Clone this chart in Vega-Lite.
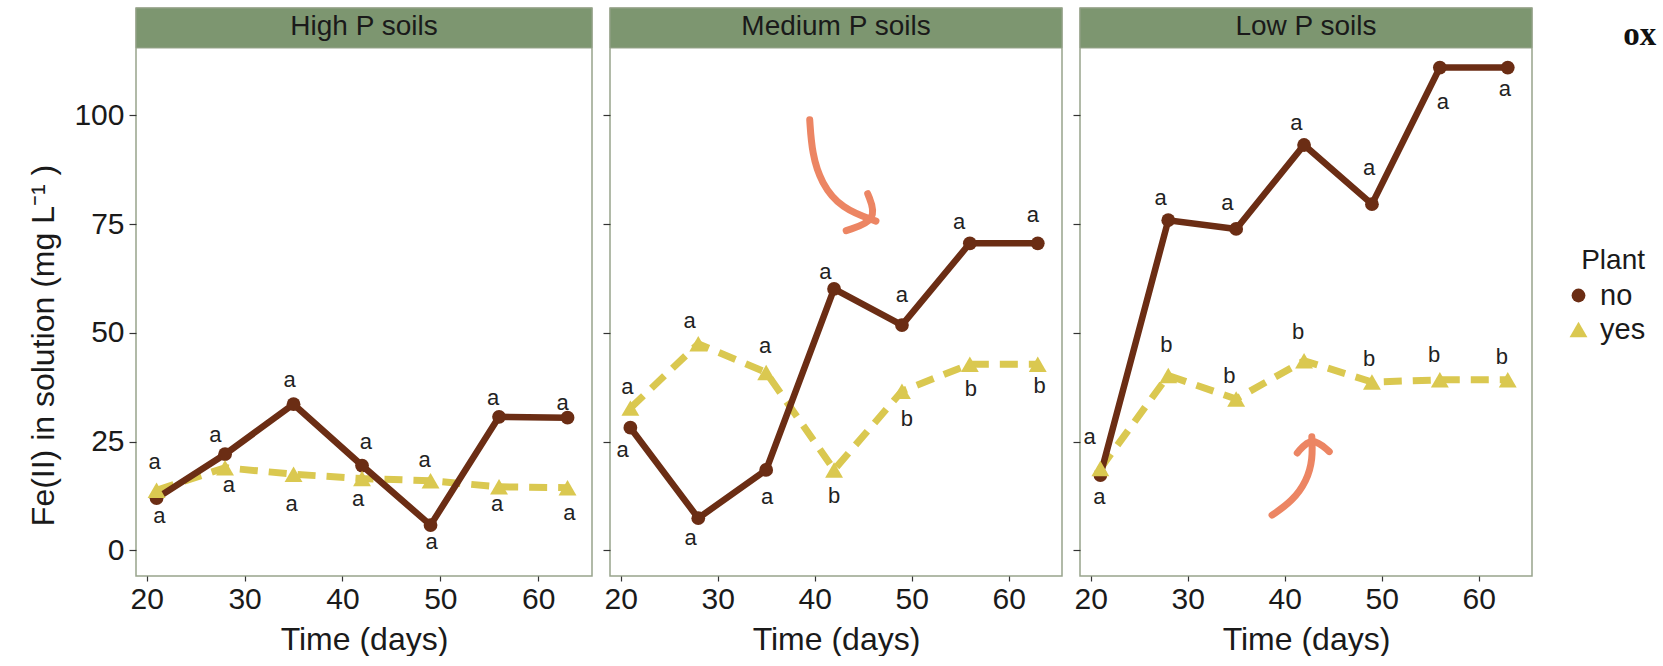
{
  "$schema": "https://vega.github.io/schema/vega-lite/v6.json",
  "padding": {"left": 27, "top": 6, "right": 0, "bottom": 0},
  "background": "white",
  "datasets": {
    "pts": [
      {"soil": "High P soils", "Plant": "no", "day": 21, "fe": 12.0},
      {"soil": "High P soils", "Plant": "no", "day": 28, "fe": 22.1},
      {"soil": "High P soils", "Plant": "no", "day": 35, "fe": 33.6},
      {"soil": "High P soils", "Plant": "no", "day": 42, "fe": 19.5},
      {"soil": "High P soils", "Plant": "no", "day": 49, "fe": 5.8},
      {"soil": "High P soils", "Plant": "no", "day": 56, "fe": 30.7},
      {"soil": "High P soils", "Plant": "no", "day": 63, "fe": 30.5},
      {"soil": "High P soils", "Plant": "yes", "day": 21, "fe": 13.8},
      {"soil": "High P soils", "Plant": "yes", "day": 28, "fe": 19.0},
      {"soil": "High P soils", "Plant": "yes", "day": 35, "fe": 17.5},
      {"soil": "High P soils", "Plant": "yes", "day": 42, "fe": 16.5},
      {"soil": "High P soils", "Plant": "yes", "day": 49, "fe": 16.0},
      {"soil": "High P soils", "Plant": "yes", "day": 56, "fe": 14.6},
      {"soil": "High P soils", "Plant": "yes", "day": 63, "fe": 14.4},
      {"soil": "Medium P soils", "Plant": "no", "day": 21, "fe": 28.2},
      {"soil": "Medium P soils", "Plant": "no", "day": 28, "fe": 7.4},
      {"soil": "Medium P soils", "Plant": "no", "day": 35, "fe": 18.5},
      {"soil": "Medium P soils", "Plant": "no", "day": 42, "fe": 60.1},
      {"soil": "Medium P soils", "Plant": "no", "day": 49, "fe": 51.8},
      {"soil": "Medium P soils", "Plant": "no", "day": 56, "fe": 70.6},
      {"soil": "Medium P soils", "Plant": "no", "day": 63, "fe": 70.6},
      {"soil": "Medium P soils", "Plant": "yes", "day": 21, "fe": 32.7},
      {"soil": "Medium P soils", "Plant": "yes", "day": 28, "fe": 47.5},
      {"soil": "Medium P soils", "Plant": "yes", "day": 35, "fe": 40.9},
      {"soil": "Medium P soils", "Plant": "yes", "day": 42, "fe": 18.5},
      {"soil": "Medium P soils", "Plant": "yes", "day": 49, "fe": 36.6},
      {"soil": "Medium P soils", "Plant": "yes", "day": 56, "fe": 42.8},
      {"soil": "Medium P soils", "Plant": "yes", "day": 63, "fe": 42.8},
      {"soil": "Low P soils", "Plant": "no", "day": 21, "fe": 17.3},
      {"soil": "Low P soils", "Plant": "no", "day": 28, "fe": 75.9},
      {"soil": "Low P soils", "Plant": "no", "day": 35, "fe": 73.9},
      {"soil": "Low P soils", "Plant": "no", "day": 42, "fe": 93.2},
      {"soil": "Low P soils", "Plant": "no", "day": 49, "fe": 79.6},
      {"soil": "Low P soils", "Plant": "no", "day": 56, "fe": 111.0},
      {"soil": "Low P soils", "Plant": "no", "day": 63, "fe": 111.0},
      {"soil": "Low P soils", "Plant": "yes", "day": 21, "fe": 18.8},
      {"soil": "Low P soils", "Plant": "yes", "day": 28, "fe": 40.2},
      {"soil": "Low P soils", "Plant": "yes", "day": 35, "fe": 34.8},
      {"soil": "Low P soils", "Plant": "yes", "day": 42, "fe": 43.6},
      {"soil": "Low P soils", "Plant": "yes", "day": 49, "fe": 38.7},
      {"soil": "Low P soils", "Plant": "yes", "day": 56, "fe": 39.2},
      {"soil": "Low P soils", "Plant": "yes", "day": 63, "fe": 39.2}
    ],
    "letters": [
      {"soil": "High P soils", "day": 20.8, "fe": 20.4, "letter": "a"},
      {"soil": "High P soils", "day": 21.3, "fe": 7.8, "letter": "a"},
      {"soil": "High P soils", "day": 27.0, "fe": 26.6, "letter": "a"},
      {"soil": "High P soils", "day": 28.4, "fe": 15.1, "letter": "a"},
      {"soil": "High P soils", "day": 34.6, "fe": 39.1, "letter": "a"},
      {"soil": "High P soils", "day": 34.8, "fe": 10.7, "letter": "a"},
      {"soil": "High P soils", "day": 42.4, "fe": 25.0, "letter": "a"},
      {"soil": "High P soils", "day": 41.6, "fe": 11.7, "letter": "a"},
      {"soil": "High P soils", "day": 48.4, "fe": 20.7, "letter": "a"},
      {"soil": "High P soils", "day": 49.1, "fe": 1.9, "letter": "a"},
      {"soil": "High P soils", "day": 55.4, "fe": 35.1, "letter": "a"},
      {"soil": "High P soils", "day": 55.8, "fe": 10.7, "letter": "a"},
      {"soil": "High P soils", "day": 62.5, "fe": 33.8, "letter": "a"},
      {"soil": "High P soils", "day": 63.2, "fe": 8.5, "letter": "a"},
      {"soil": "Medium P soils", "day": 20.7, "fe": 37.5, "letter": "a"},
      {"soil": "Medium P soils", "day": 20.2, "fe": 23.0, "letter": "a"},
      {"soil": "Medium P soils", "day": 27.1, "fe": 52.8, "letter": "a"},
      {"soil": "Medium P soils", "day": 27.2, "fe": 2.9, "letter": "a"},
      {"soil": "Medium P soils", "day": 34.9, "fe": 47.0, "letter": "a"},
      {"soil": "Medium P soils", "day": 35.1, "fe": 12.3, "letter": "a"},
      {"soil": "Medium P soils", "day": 41.1, "fe": 64.0, "letter": "a"},
      {"soil": "Medium P soils", "day": 42.0, "fe": 12.5, "letter": "b"},
      {"soil": "Medium P soils", "day": 49.0, "fe": 58.7, "letter": "a"},
      {"soil": "Medium P soils", "day": 49.5, "fe": 30.2, "letter": "b"},
      {"soil": "Medium P soils", "day": 54.9, "fe": 75.5, "letter": "a"},
      {"soil": "Medium P soils", "day": 56.1, "fe": 37.0, "letter": "b"},
      {"soil": "Medium P soils", "day": 62.5, "fe": 77.1, "letter": "a"},
      {"soil": "Medium P soils", "day": 63.2, "fe": 37.7, "letter": "b"},
      {"soil": "Low P soils", "day": 19.9, "fe": 26.1, "letter": "a"},
      {"soil": "Low P soils", "day": 20.9, "fe": 12.3, "letter": "a"},
      {"soil": "Low P soils", "day": 27.2, "fe": 81.0, "letter": "a"},
      {"soil": "Low P soils", "day": 27.8, "fe": 47.3, "letter": "b"},
      {"soil": "Low P soils", "day": 34.1, "fe": 79.8, "letter": "a"},
      {"soil": "Low P soils", "day": 34.3, "fe": 40.2, "letter": "b"},
      {"soil": "Low P soils", "day": 41.2, "fe": 98.2, "letter": "a"},
      {"soil": "Low P soils", "day": 41.4, "fe": 50.2, "letter": "b"},
      {"soil": "Low P soils", "day": 48.7, "fe": 87.8, "letter": "a"},
      {"soil": "Low P soils", "day": 48.7, "fe": 44.1, "letter": "b"},
      {"soil": "Low P soils", "day": 56.3, "fe": 103.2, "letter": "a"},
      {"soil": "Low P soils", "day": 55.4, "fe": 45.0, "letter": "b"},
      {"soil": "Low P soils", "day": 62.7, "fe": 106.1, "letter": "a"},
      {"soil": "Low P soils", "day": 62.4, "fe": 44.4, "letter": "b"}
    ],
    "arrows": [
      {"soil": "Medium P soils", "part": "curve", "ord": 1, "day": 39.49, "fe": 99.0},
      {"soil": "Medium P soils", "part": "curve", "ord": 2, "day": 39.73, "fe": 91.2},
      {"soil": "Medium P soils", "part": "curve", "ord": 3, "day": 40.68, "fe": 84.4},
      {"soil": "Medium P soils", "part": "curve", "ord": 4, "day": 42.74, "fe": 78.6},
      {"soil": "Medium P soils", "part": "curve", "ord": 5, "day": 46.32, "fe": 75.7},
      {"soil": "Medium P soils", "part": "head", "ord": 1, "day": 45.47, "fe": 82.0},
      {"soil": "Medium P soils", "part": "head", "ord": 2, "day": 46.56, "fe": 75.9},
      {"soil": "Medium P soils", "part": "head", "ord": 3, "day": 43.25, "fe": 73.5},
      {"soil": "Low P soils", "part": "curve", "ord": 1, "day": 38.7, "fe": 8.1},
      {"soil": "Low P soils", "part": "curve", "ord": 2, "day": 40.8, "fe": 11.3},
      {"soil": "Low P soils", "part": "curve", "ord": 3, "day": 42.3, "fe": 16.0},
      {"soil": "Low P soils", "part": "curve", "ord": 4, "day": 42.9, "fe": 21.0},
      {"soil": "Low P soils", "part": "curve", "ord": 5, "day": 42.8, "fe": 26.1},
      {"soil": "Low P soils", "part": "head", "ord": 1, "day": 41.3, "fe": 22.4},
      {"soil": "Low P soils", "part": "head", "ord": 2, "day": 42.8, "fe": 26.3},
      {"soil": "Low P soils", "part": "head", "ord": 3, "day": 44.6, "fe": 22.7}
    ],
    "strips": [
      {"soil": "High P soils"},
      {"soil": "Medium P soils"},
      {"soil": "Low P soils"}
    ],
    "notes": [
      {"soil": "Low P soils", "note": "ox", "day": 74.9, "fe": 116.3}
    ]
  },
  "spacing": 7,
  "resolve": {"scale": {"color": "shared", "shape": "shared", "size": "shared"}, "legend": {"color": "shared", "shape": "shared", "size": "shared"}},
  "hconcat": [
    {
      "width": 456, "height": 568,
      "layer": [
        {"data": {"name": "strips"}, "transform": [{"filter": "datum.soil === 'High P soils'"}],
         "mark": {"type": "rect", "fill": "#7d9670", "stroke": "#98a48c", "strokeWidth": 1},
         "encoding": {
           "x": {"datum": 18.9, "type": "quantitative", "scale": {"domain": [18.9, 65.5], "nice": false, "zero": false},
                 "axis": {"title": "Time (days)", "values": [20, 30, 40, 50, 60]}},
           "x2": {"datum": 65.5},
           "y": {"datum": 115.5, "type": "quantitative", "scale": {"domain": [-5.9, 124.7], "nice": false, "zero": false},
                 "axis": {"title": "Fe(II) in solution (mg L⁻¹ )", "values": [0, 25, 50, 75, 100], "titleY": 337}},
           "y2": {"datum": 124.7}}},
        {"data": {"name": "strips"}, "transform": [{"filter": "datum.soil === 'High P soils'"}],
         "mark": {"type": "text", "fontSize": 28, "color": "#1a1a1a", "baseline": "middle"},
         "encoding": {"x": {"datum": 42.2, "type": "quantitative"}, "y": {"datum": 120.3, "type": "quantitative"}, "text": {"field": "soil"}}},
        {"data": {"name": "pts"}, "transform": [{"filter": "datum.soil === 'High P soils' && datum.Plant === 'yes'"}],
         "mark": {"type": "line", "color": "#dac850", "strokeWidth": 7, "strokeDash": [18, 11]},
         "encoding": {"x": {"field": "day", "type": "quantitative"}, "y": {"field": "fe", "type": "quantitative"}}},
        {"data": {"name": "pts"}, "transform": [{"filter": "datum.soil === 'High P soils' && datum.Plant === 'no'"}],
         "mark": {"type": "line", "color": "#6b2d14", "strokeWidth": 6.5},
         "encoding": {"x": {"field": "day", "type": "quantitative"}, "y": {"field": "fe", "type": "quantitative"}}},
        {"data": {"name": "pts"}, "transform": [{"filter": "datum.soil === 'High P soils'"}],
         "mark": {"type": "point", "filled": true, "opacity": 1},
         "encoding": {"x": {"field": "day", "type": "quantitative"}, "y": {"field": "fe", "type": "quantitative"},
           "color": {"field": "Plant", "type": "nominal", "scale": {"domain": ["no", "yes"], "range": ["#6b2d14", "#dac850"]}, "title": "Plant"},
           "shape": {"field": "Plant", "type": "nominal", "scale": {"domain": ["no", "yes"], "range": ["circle", "triangle-up"]}, "title": "Plant"},
           "size": {"field": "Plant", "type": "nominal", "scale": {"domain": ["no", "yes"], "range": [190, 320]}, "title": "Plant"}}},
        {"data": {"name": "letters"}, "transform": [{"filter": "datum.soil === 'High P soils'"}],
         "mark": {"type": "text", "fontSize": 22, "color": "#222222", "baseline": "middle"},
         "encoding": {"x": {"field": "day", "type": "quantitative"}, "y": {"field": "fe", "type": "quantitative"}, "text": {"field": "letter"}}}
      ]
    },
    {
      "width": 452, "height": 568,
      "layer": [
        {"data": {"name": "strips"}, "transform": [{"filter": "datum.soil === 'Medium P soils'"}],
         "mark": {"type": "rect", "fill": "#7d9670", "stroke": "#98a48c", "strokeWidth": 1},
         "encoding": {
           "x": {"datum": 18.9, "type": "quantitative", "scale": {"domain": [18.9, 65.5], "nice": false, "zero": false},
                 "axis": {"title": "Time (days)", "values": [20, 30, 40, 50, 60]}},
           "x2": {"datum": 65.5},
           "y": {"datum": 115.5, "type": "quantitative", "scale": {"domain": [-5.9, 124.7], "nice": false, "zero": false},
                 "axis": {"title": null, "labels": false, "values": [0, 25, 50, 75, 100]}},
           "y2": {"datum": 124.7}}},
        {"data": {"name": "strips"}, "transform": [{"filter": "datum.soil === 'Medium P soils'"}],
         "mark": {"type": "text", "fontSize": 28, "color": "#1a1a1a", "baseline": "middle"},
         "encoding": {"x": {"datum": 42.2, "type": "quantitative"}, "y": {"datum": 120.3, "type": "quantitative"}, "text": {"field": "soil"}}},
        {"data": {"name": "pts"}, "transform": [{"filter": "datum.soil === 'Medium P soils' && datum.Plant === 'yes'"}],
         "mark": {"type": "line", "color": "#dac850", "strokeWidth": 7, "strokeDash": [18, 11]},
         "encoding": {"x": {"field": "day", "type": "quantitative"}, "y": {"field": "fe", "type": "quantitative"}}},
        {"data": {"name": "pts"}, "transform": [{"filter": "datum.soil === 'Medium P soils' && datum.Plant === 'no'"}],
         "mark": {"type": "line", "color": "#6b2d14", "strokeWidth": 6.5},
         "encoding": {"x": {"field": "day", "type": "quantitative"}, "y": {"field": "fe", "type": "quantitative"}}},
        {"data": {"name": "pts"}, "transform": [{"filter": "datum.soil === 'Medium P soils'"}],
         "mark": {"type": "point", "filled": true, "opacity": 1},
         "encoding": {"x": {"field": "day", "type": "quantitative"}, "y": {"field": "fe", "type": "quantitative"},
           "color": {"field": "Plant", "type": "nominal", "scale": {"domain": ["no", "yes"], "range": ["#6b2d14", "#dac850"]}, "title": "Plant"},
           "shape": {"field": "Plant", "type": "nominal", "scale": {"domain": ["no", "yes"], "range": ["circle", "triangle-up"]}, "title": "Plant"},
           "size": {"field": "Plant", "type": "nominal", "scale": {"domain": ["no", "yes"], "range": [190, 320]}, "title": "Plant"}}},
        {"data": {"name": "letters"}, "transform": [{"filter": "datum.soil === 'Medium P soils'"}],
         "mark": {"type": "text", "fontSize": 22, "color": "#222222", "baseline": "middle"},
         "encoding": {"x": {"field": "day", "type": "quantitative"}, "y": {"field": "fe", "type": "quantitative"}, "text": {"field": "letter"}}},
        {"data": {"name": "arrows"}, "transform": [{"filter": "datum.soil === 'Medium P soils'"}],
         "mark": {"type": "line", "color": "#ec8563", "strokeWidth": 7, "strokeCap": "round", "strokeJoin": "round", "interpolate": "basis"},
         "encoding": {"x": {"field": "day", "type": "quantitative"}, "y": {"field": "fe", "type": "quantitative"}, "detail": {"field": "part"}, "order": {"field": "ord"}}}
      ]
    },
    {
      "width": 452, "height": 568,
      "layer": [
        {"data": {"name": "strips"}, "transform": [{"filter": "datum.soil === 'Low P soils'"}],
         "mark": {"type": "rect", "fill": "#7d9670", "stroke": "#98a48c", "strokeWidth": 1},
         "encoding": {
           "x": {"datum": 18.9, "type": "quantitative", "scale": {"domain": [18.9, 65.5], "nice": false, "zero": false},
                 "axis": {"title": "Time (days)", "values": [20, 30, 40, 50, 60]}},
           "x2": {"datum": 65.5},
           "y": {"datum": 115.5, "type": "quantitative", "scale": {"domain": [-5.9, 124.7], "nice": false, "zero": false},
                 "axis": {"title": null, "labels": false, "values": [0, 25, 50, 75, 100]}},
           "y2": {"datum": 124.7}}},
        {"data": {"name": "strips"}, "transform": [{"filter": "datum.soil === 'Low P soils'"}],
         "mark": {"type": "text", "fontSize": 28, "color": "#1a1a1a", "baseline": "middle"},
         "encoding": {"x": {"datum": 42.2, "type": "quantitative"}, "y": {"datum": 120.3, "type": "quantitative"}, "text": {"field": "soil"}}},
        {"data": {"name": "pts"}, "transform": [{"filter": "datum.soil === 'Low P soils' && datum.Plant === 'yes'"}],
         "mark": {"type": "line", "color": "#dac850", "strokeWidth": 7, "strokeDash": [18, 11]},
         "encoding": {"x": {"field": "day", "type": "quantitative"}, "y": {"field": "fe", "type": "quantitative"}}},
        {"data": {"name": "pts"}, "transform": [{"filter": "datum.soil === 'Low P soils' && datum.Plant === 'no'"}],
         "mark": {"type": "line", "color": "#6b2d14", "strokeWidth": 6.5},
         "encoding": {"x": {"field": "day", "type": "quantitative"}, "y": {"field": "fe", "type": "quantitative"}}},
        {"data": {"name": "pts"}, "transform": [{"filter": "datum.soil === 'Low P soils'"}],
         "mark": {"type": "point", "filled": true, "opacity": 1},
         "encoding": {"x": {"field": "day", "type": "quantitative"}, "y": {"field": "fe", "type": "quantitative"},
           "color": {"field": "Plant", "type": "nominal", "scale": {"domain": ["no", "yes"], "range": ["#6b2d14", "#dac850"]}, "title": "Plant"},
           "shape": {"field": "Plant", "type": "nominal", "scale": {"domain": ["no", "yes"], "range": ["circle", "triangle-up"]}, "title": "Plant"},
           "size": {"field": "Plant", "type": "nominal", "scale": {"domain": ["no", "yes"], "range": [190, 320]}, "title": "Plant"}}},
        {"data": {"name": "letters"}, "transform": [{"filter": "datum.soil === 'Low P soils'"}],
         "mark": {"type": "text", "fontSize": 22, "color": "#222222", "baseline": "middle"},
         "encoding": {"x": {"field": "day", "type": "quantitative"}, "y": {"field": "fe", "type": "quantitative"}, "text": {"field": "letter"}}},
        {"data": {"name": "arrows"}, "transform": [{"filter": "datum.soil === 'Low P soils'"}],
         "mark": {"type": "line", "color": "#ec8563", "strokeWidth": 7, "strokeCap": "round", "strokeJoin": "round", "interpolate": "basis"},
         "encoding": {"x": {"field": "day", "type": "quantitative"}, "y": {"field": "fe", "type": "quantitative"}, "detail": {"field": "part"}, "order": {"field": "ord"}}},
        {"data": {"name": "notes"},
         "mark": {"type": "text", "font": "Liberation Serif", "fontWeight": "bold", "fontSize": 33, "color": "#111111", "align": "left", "baseline": "alphabetic"},
         "encoding": {"x": {"field": "day", "type": "quantitative"}, "y": {"field": "fe", "type": "quantitative"}, "text": {"field": "note"}}}
      ]
    }
  ],
  "config": {
    "font": "Liberation Sans",
    "view": {"stroke": "#98a48c", "strokeWidth": 1.5},
    "axis": {
      "grid": false, "domain": false,
      "tickColor": "#333333", "tickWidth": 1.2,
      "labelFont": "Liberation Sans", "labelFontSize": 30, "labelColor": "#1a1a1a",
      "titleFont": "Liberation Sans", "titleFontSize": 32, "titleFontWeight": "normal", "titleColor": "#1a1a1a"
    },
    "axisX": {"tickSize": 5, "labelPadding": 3, "titlePadding": 10},
    "axisY": {"tickSize": 7, "labelPadding": 5, "titlePadding": 13},
    "legend": {
      "orient": "none", "legendX": 1428, "legendY": 239,
      "titleFontSize": 28, "titleFontWeight": "normal", "titleColor": "#1a1a1a", "titleAnchor": "end",
      "labelFontSize": 29, "labelColor": "#1a1a1a", "labelOffset": 7,
      "rowPadding": 4, "padding": 0, "titlePadding": 6
    }
  }
}
